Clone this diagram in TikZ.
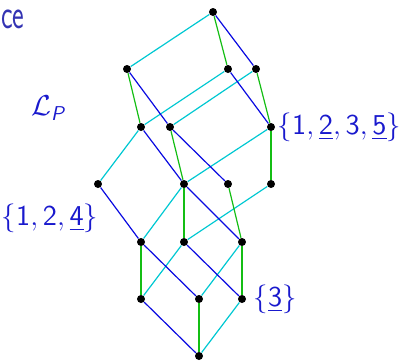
\documentclass[tikz,border=0pt]{standalone}
\usepackage{amsmath,amssymb}
\usepackage{tikz}
\usetikzlibrary{positioning}
\definecolor{title}{RGB}{51,51,179}
\definecolor{lblue}{RGB}{25,25,205}
\definecolor{ecyan}{RGB}{0,200,210}
\definecolor{eblue}{RGB}{10,10,225}
\definecolor{egreen}{RGB}{20,190,20}

\begin{document}
\begin{tikzpicture}[x=0.5pt,y=-0.5pt,
  dot/.style={circle,fill=black,inner sep=0pt,minimum size=4pt},
  setlabel/.style={text=lblue,font=\Large,inner sep=1pt},
  edge/.style={line width=0.6pt}]
\useasboundingbox (0,0) rectangle (402,361);
\node[anchor=base west,inner sep=0pt,text=title,font=\fontsize{21}{25}\selectfont\sffamily,xscale=0.66,transform shape] (ttl) at (1,28) {ce};
\node[setlabel] (lp) at (48,108) {$\mathcal{L}_{\textsf{\itshape P}}$};
% lattice points
\node[dot] (T) at (213,12) {};
\node[dot] (A) at (127,69) {};
\node[dot] (B) at (228,69) {};
\node[dot] (C) at (256,69) {};
\node[dot] (D) at (141,127) {};
\node[dot] (E) at (170,127) {};
\node[dot] (F) at (271,127) {};
\node[dot] (G) at (98,184) {};
\node[dot] (H) at (184,184) {};
\node[dot] (I) at (228,184) {};
\node[dot] (J) at (271,184) {};
\node[dot] (K) at (141,242) {};
\node[dot] (L) at (184,242) {};
\node[dot] (M) at (242,242) {};
\node[dot] (N) at (141,299) {};
\node[dot] (O) at (199,299) {};
\node[dot] (Q) at (242,299) {};
\node[dot] (Z) at (199,356) {};
\foreach \a/\b in {T/A,B/D,C/E,D/G,F/H,H/K,J/L,L/N,M/O,Q/Z}{\draw[edge,ecyan] (\a)--(\b);}
\foreach \a/\b in {T/C,A/E,B/F,D/H,E/I,G/K,H/M,K/O,L/Q,N/Z}{\draw[edge,eblue] (\a)--(\b);}
\foreach \a/\b in {T/B,A/D,C/F,E/H,F/J,I/M,H/L,K/N,M/Q,O/Z}{\draw[edge,egreen] (\a)--(\b);}
% set labels
\node[setlabel,right=0pt of F] (s1235) {$\{\mathsf{1},\underline{\mathsf{2}},\mathsf{3},\underline{\mathsf{5}}\}$};
\node[setlabel,left=18pt of K,yshift=12pt] (s124) {$\{\mathsf{1},\mathsf{2},\underline{\mathsf{4}}\}$};
\node[setlabel,right=2.5pt of Q] (s3) {$\{\underline{\mathsf{3}}\}$};
\end{tikzpicture}
\end{document}
